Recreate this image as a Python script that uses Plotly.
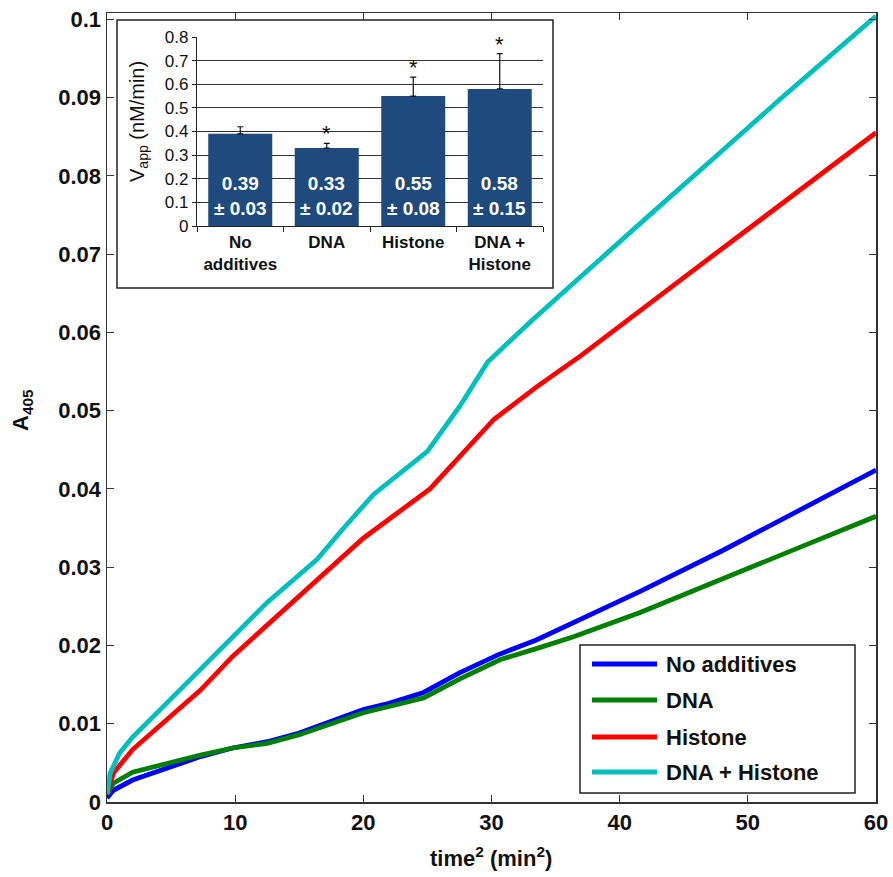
import plotly.graph_objects as go

# ---------------- data ----------------
series_names = ["No additives", "DNA", "Histone", "DNA + Histone"]
series_colors = ["#0000FF", "#008000", "#FF0000", "#00BFBF"]

x_no_add = [0, 0.5, 2, 4.7, 7.3, 9.8, 12.5, 15, 17.7, 20, 22, 24.7, 27.5, 30.5, 33.5, 36.4, 41.6, 48, 54, 60]
y_no_add = [0.0005, 0.0015, 0.0028, 0.0043, 0.0058, 0.0069, 0.0077, 0.0088, 0.0104, 0.0118, 0.0126, 0.0140,
            0.0165, 0.0188, 0.0207, 0.0229, 0.0269, 0.0321, 0.0372, 0.0424]

x_dna = [0, 0.5, 2, 4.7, 7.3, 9.8, 12.5, 15, 17.7, 20, 22, 24.7, 27.5, 30.7, 33.5, 36.4, 41.6, 48, 54, 60]
y_dna = [0.0010, 0.0024, 0.0038, 0.0050, 0.0060, 0.0069, 0.0075, 0.0086, 0.0101, 0.0114, 0.0122, 0.0133,
         0.0157, 0.0182, 0.0196, 0.0211, 0.0242, 0.0284, 0.0325, 0.0365]

x_his = [0, 0.5, 2, 4.7, 7.3, 9.8, 12.5, 15, 18, 20, 25.2, 30.2, 33.5, 36.95, 45, 52, 60]
y_his = [0.0010, 0.0037, 0.0067, 0.0105, 0.0143, 0.0186, 0.0226, 0.0263, 0.0307, 0.0337, 0.0400, 0.0489,
         0.0530, 0.0570, 0.0670, 0.0756, 0.0855]

x_dh = [0, 0.25, 1, 2, 4.7, 7.3, 9.8, 12.5, 16.4, 18.2, 20.8, 22.9, 25, 27.5, 29.7, 33, 36.5, 42, 48, 52.6, 60]
y_dh = [0.0010, 0.0037, 0.0063, 0.0083, 0.0127, 0.0169, 0.0211, 0.0255, 0.0310, 0.0345, 0.0393, 0.0420,
        0.0448, 0.0505, 0.0562, 0.0613, 0.0665, 0.0745, 0.0832, 0.0899, 0.1004]

series_x = [x_no_add, x_dna, x_his, x_dh]
series_y = [y_no_add, y_dna, y_his, y_dh]

x_tickvals = [0, 10, 20, 30, 40, 50, 60]
y_tickvals = [0, 0.01, 0.02, 0.03, 0.04, 0.05, 0.06, 0.07, 0.08, 0.09, 0.1]
y_ticktext = ["0", "0.01", "0.02", "0.03", "0.04", "0.05", "0.06", "0.07", "0.08", "0.09", "0.1"]

# inset bar chart
bar_categories = ["No<br>additives", "DNA", "Histone", "DNA +<br>Histone"]
bar_values = [0.39, 0.33, 0.55, 0.58]
bar_errors = [0.03, 0.02, 0.08, 0.15]
bar_significant = [False, True, True, True]
inset_ticks = [0, 0.1, 0.2, 0.3, 0.4, 0.5, 0.6, 0.7, 0.8]

# ---------------- figure ----------------
FONT = "Liberation Sans, Arial, sans-serif"
W, H = 893, 877
ML, MR, MT, MB = 107, 17, 13, 75
PW, PH = W - ML - MR, H - MT - MB


def px_x(p):
    return (p - ML) / PW


def px_y(p):
    return (H - MB - p) / PH


fig = go.Figure()

for name, col, xs, ys in zip(series_names, series_colors, series_x, series_y):
    fig.add_trace(go.Scatter(x=xs, y=ys, mode="lines", name=name,
                             line=dict(color=col, width=4.8), showlegend=False,
                             xaxis="x", yaxis="y"))

fig.add_trace(go.Bar(x=bar_categories, y=bar_values, marker=dict(color="#1F4A7E", line=dict(width=0)),
                     error_y=dict(type="data", array=bar_errors, arrayminus=[0] * len(bar_errors),
                                  symmetric=False, color="#111111", thickness=1.2, width=3),
                     xaxis="x2", yaxis="y2", showlegend=False))

tick_font = dict(family=FONT, size=22, color="#111111", weight="bold")

fig.update_layout(
    width=W, height=H,
    margin=dict(l=ML, r=MR, t=MT, b=MB, autoexpand=False),
    paper_bgcolor="white", plot_bgcolor="white",
    showlegend=False,
    bargap=0.26,
    xaxis=dict(domain=[0, 1], range=[0, 60], tickvals=x_tickvals, ticks="inside", ticklen=7,
               tickcolor="#333333", showline=True, linecolor="#333333", linewidth=1.5,
               mirror="allticks", showgrid=False, zeroline=False, tickfont=tick_font,
               automargin=False),
    yaxis=dict(domain=[0, 1], range=[0, 0.1008], tickvals=y_tickvals, ticktext=y_ticktext,
               ticks="inside", ticklen=7, tickcolor="#333333", showline=True, linecolor="#333333",
               linewidth=1.5, mirror="allticks", showgrid=False, zeroline=False, tickfont=tick_font,
               automargin=False),
    xaxis2=dict(domain=[px_x(197), px_x(543)], anchor="y2", type="category",
                ticks="outside", tickson="boundaries", ticklen=5, tickcolor="#222222",
                showline=True, linecolor="#222222", linewidth=1.2, showgrid=False, automargin=False,
                tickfont=dict(family=FONT, size=17, color="#111111", weight="bold")),
    yaxis2=dict(domain=[px_y(226), px_y(37)], anchor="x2", range=[0, 0.8], tickvals=inset_ticks,
                ticks="outside", ticklen=4, tickcolor="#222222", showline=True, linecolor="#222222",
                linewidth=1.2, showgrid=True, gridcolor="#333333", gridwidth=1, zeroline=False,
                automargin=False, tickfont=dict(family=FONT, size=17, color="#111111")),
)

shapes = []
# inset frame
shapes.append(dict(type="rect", xref="paper", yref="paper", x0=px_x(117), x1=px_x(553),
                   y0=px_y(288), y1=px_y(20), line=dict(color="#222222", width=1.5),
                   fillcolor="white", layer="below"))
# legend box
shapes.append(dict(type="rect", xref="paper", yref="paper", x0=px_x(580), x1=px_x(855),
                   y0=px_y(793), y1=px_y(645), line=dict(color="#222222", width=1.5),
                   fillcolor="white", layer="above"))

annotations = []
leg_rows = [664, 700, 737, 772]
for name, col, ry in zip(series_names, series_colors, leg_rows):
    shapes.append(dict(type="line", xref="paper", yref="paper", x0=px_x(592), x1=px_x(657),
                       y0=px_y(ry), y1=px_y(ry), line=dict(color=col, width=5), layer="above"))
    annotations.append(dict(xref="paper", yref="paper", x=px_x(664), y=px_y(ry), text=name,
                            showarrow=False, xanchor="left", yanchor="middle",
                            font=dict(family=FONT, size=22, color="#111111", weight="bold")))

# inset bar labels
for cat, v, e, sig in zip(bar_categories, bar_values, bar_errors, bar_significant):
    annotations.append(dict(xref="x2", yref="y2", x=cat, y=0.127,
                            text=f"{v:.2f}<br>± {e:.2f}", showarrow=False,
                            font=dict(family=FONT, size=19, color="white", weight="bold"),
                            xanchor="center", yanchor="middle"))
    if sig:
        annotations.append(dict(xref="x2", yref="y2", x=cat, y=v + e, text="*", showarrow=False,
                                xanchor="center", yanchor="bottom", yshift=-5,
                                font=dict(family=FONT, size=22, color="#111111")))

# inset y title
annotations.append(dict(xref="paper", yref="paper", x=px_x(138), y=px_y(122),
                        text="V<sub>app</sub> (nM/min)", textangle=-90, showarrow=False,
                        xanchor="center", yanchor="middle",
                        font=dict(family=FONT, size=20, color="#111111")))
# main axis titles
annotations.append(dict(xref="paper", yref="paper", x=px_x(491), y=px_y(857),
                        text="time<sup>2</sup> (min<sup>2</sup>)", showarrow=False,
                        xanchor="center", yanchor="middle",
                        font=dict(family=FONT, size=22, color="#111111", weight="bold")))
annotations.append(dict(xref="paper", yref="paper", x=px_x(22), y=px_y(410),
                        text="A<sub>405</sub>", textangle=-90, showarrow=False,
                        xanchor="center", yanchor="middle",
                        font=dict(family=FONT, size=22, color="#111111", weight="bold")))

fig.update_layout(shapes=shapes, annotations=annotations)
fig.write_html("out.html", config={"displayModeBar": False, "staticPlot": True})

# remove the browser's default page margin so the figure sits at the window origin
with open("out.html", "r", encoding="utf-8") as fh:
    html = fh.read()
html = html.replace("<head>", "<head><style>html,body{margin:0;padding:0;overflow:hidden;}</style>", 1)
with open("out.html", "w", encoding="utf-8") as fh:
    fh.write(html)
